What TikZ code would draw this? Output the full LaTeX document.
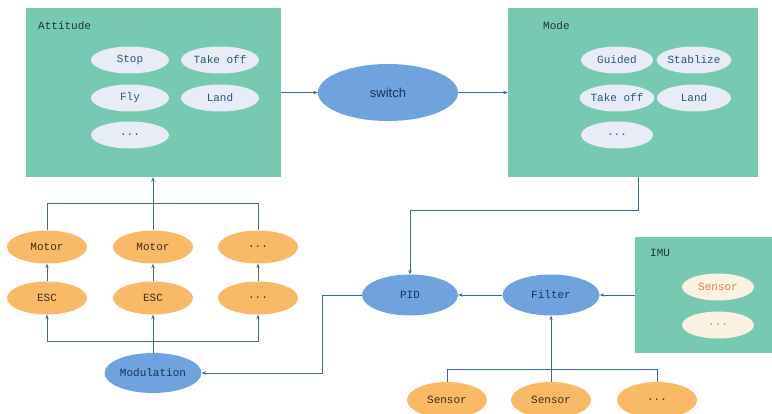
\documentclass[tikz,border=0pt]{standalone}
\usepackage{fontspec}
\setmonofont{Liberation Mono}
\setsansfont{Liberation Sans}
\usetikzlibrary{shapes.geometric,arrows.meta}
\definecolor{boxgreen}{RGB}{120,201,177}
\definecolor{innerfill}{RGB}{232,236,246}
\definecolor{innertext}{RGB}{40,85,135}
\definecolor{orfill}{RGB}{249,186,104}
\definecolor{ortext}{RGB}{60,45,30}
\definecolor{blfill}{RGB}{112,163,222}
\definecolor{bltext}{RGB}{25,50,85}
\definecolor{imufill}{RGB}{251,241,227}
\definecolor{imutext}{RGB}{205,140,60}
\definecolor{linec}{RGB}{62,108,140}
\definecolor{lbl}{RGB}{30,55,55}
\tikzset{
  grbox/.style={draw=none,fill=boxgreen,inner sep=0},
  boxlbl/.style={anchor=west,font=\ttfamily\fontsize{11}{12}\selectfont,text=lbl,inner sep=0},
  inell/.style={ellipse,fill=innerfill,draw=none,minimum width=78pt,minimum height=27pt,inner sep=0,
     font=\ttfamily\fontsize{11}{12}\selectfont,text=innertext},
  imuell/.style={ellipse,fill=imufill,draw=none,minimum width=72pt,minimum height=27pt,inner sep=0,
     font=\ttfamily\fontsize{11}{12}\selectfont,text=imutext},
  orell/.style={ellipse,fill=orfill,draw=none,minimum width=80pt,minimum height=33pt,inner sep=0,
     font=\ttfamily\fontsize{11}{12}\selectfont,text=ortext},
  blell/.style={ellipse,fill=blfill,draw=none,minimum width=97pt,minimum height=41pt,inner sep=0,
     font=\ttfamily\fontsize{11}{12}\selectfont,text=bltext},
  conn/.style={draw=linec,line width=0.7pt},
  arr/.style={conn,-{Stealth[length=4.5pt,width=3.5pt]}},
}
\begin{document}
\begin{tikzpicture}[x=1pt,y=-1pt]
\useasboundingbox (0,0) rectangle (772,413);
\clip (0,0) rectangle (772,413);
% Attitude box
\node[grbox,minimum width=255pt,minimum height=169pt] (att) at (153,92.5) {};
\node[boxlbl] (attl) at (38,26) {Attitude};
\node[inell] (stop) at (130,60) {Stop};
\node[inell] (atake) at (220,60) {Take off};
\node[inell] (fly) at (130,98) {Fly};
\node[inell] (aland) at (220,98) {Land};
\node[inell] (adots) at (130,135) {...};
% Mode box
\node[grbox,minimum width=250pt,minimum height=169pt] (mode) at (633,92.5) {};
\node[boxlbl] (model) at (543,26) {Mode};
\node[inell,minimum width=72pt] (guided) at (617,60) {Guided};
\node[inell,minimum width=74pt] (stab) at (694,60) {Stablize};
\node[inell,minimum width=72pt] (mtake) at (617,98) {Take off};
\node[inell,minimum width=74pt] (mland) at (694,98) {Land};
\node[inell,minimum width=72pt] (mdots) at (617,135) {...};
% switch
\node[blell,minimum width=140pt,minimum height=57pt,font=\sffamily\fontsize{13}{14}\selectfont] (sw) at (388,92.5) {switch};
% IMU box
\node[grbox,minimum width=137pt,minimum height=116pt] (imu) at (703.5,295) {};
\node[boxlbl] (imul) at (650,253) {IMU};
\node[imuell] (isens) at (718,287) {Sensor};
\node[imuell] (idots) at (718,325) {...};
% PID / Filter / Modulation
\node[blell,minimum width=96pt] (pid) at (410,295) {PID};
\node[blell] (filter) at (551,295) {Filter};
\node[blell,minimum height=40pt] (mod) at (153,373) {Modulation};
% motors / ESCs
\node[orell] (m1) at (47,247) {Motor};
\node[orell] (m2) at (153,247) {Motor};
\node[orell] (m3) at (258,247) {...};
\node[orell] (e1) at (47,298) {ESC};
\node[orell] (e2) at (153,298) {ESC};
\node[orell] (e3) at (258,298) {...};
% sensors
\node[orell,minimum height=36pt] (s1) at (447,400) {Sensor};
\node[orell,minimum height=36pt] (s2) at (551,400) {Sensor};
\node[orell,minimum height=36pt] (s3) at (657,400) {...};
% connectors
\draw[arr] (att.east) -- (sw.west);
\draw[arr] (sw.east) -- (mode.west);
\draw[arr] ([xshift=5pt]mode.south) -- ++(0,33) -| (pid.north);
\draw[arr] (filter.west) -- (pid.east);
\draw[arr] (imu.west) -- (filter.east);
\draw[arr] (pid.west) -- ++(-39,0) |- (mod.east);
\draw[arr] (mod.north) -- (e2.south);
\draw[arr] (mod.north) -- ++(0,-11) -| (e1.south);
\draw[arr] (mod.north) -- ++(0,-11) -| (e3.south);
\draw[arr] (e1.north) -- (m1.south);
\draw[arr] (e2.north) -- (m2.south);
\draw[arr] (e3.north) -- (m3.south);
\draw[arr] (m2.north) -- (att.south);
\draw[conn] (m1.north) -- ++(0,-27) -| (m3.north);
\draw[conn] (s1.north) -- ++(0,-12) -| (s3.north);
\draw[arr] (s2.north) -- (filter.south);
\end{tikzpicture}
\end{document}
